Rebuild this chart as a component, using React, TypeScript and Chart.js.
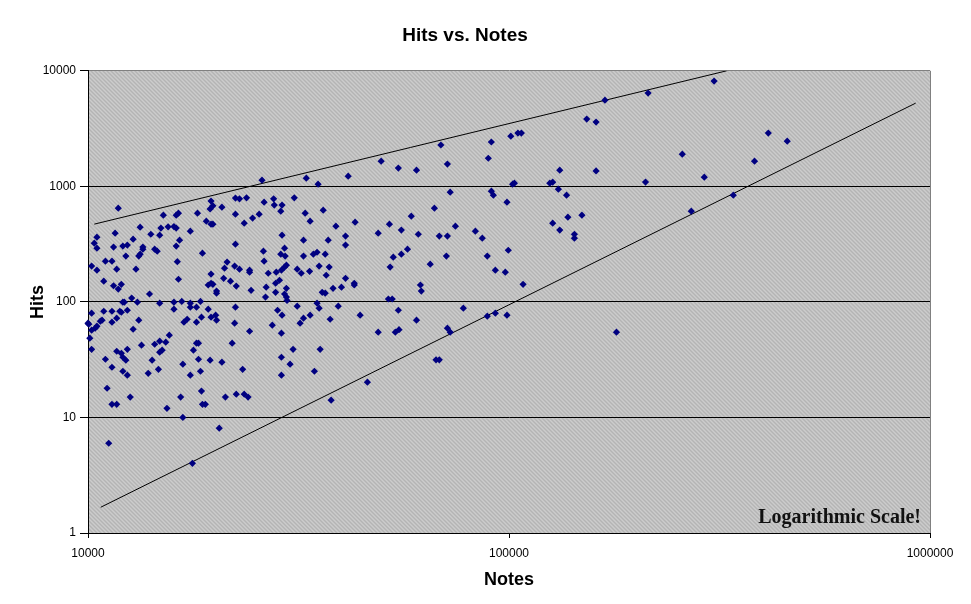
import React, { useEffect, useRef } from 'react';
import { Chart, registerables } from 'chart.js';

Chart.register(...registerables);
Chart.defaults.font.family = '"Liberation Sans", Arial, sans-serif';

const chartTitle = 'Hits vs. Notes';
const xAxisTitle = 'Notes';
const yAxisTitle = 'Hits';
const noteText = 'Logarithmic Scale!';

const xTickValues = [10000, 100000, 1000000];
const yTickValues = [1, 10, 100, 1000, 10000];

const notesValues = [
  11800, 25900, 33000, 35200, 41500, 49700, 19600, 19800, 19500, 20800,
  22400, 22900, 23800, 27600, 27700, 28900, 26200, 30900, 15100, 16200,
  16400, 18200, 22400, 25500, 28700, 32800, 36200, 24600, 23500, 33700,
  43100, 19100, 19600, 19800, 13300, 14900, 15500, 16000, 16200, 17500,
  11600, 14100, 14800, 10500, 10350, 10500, 12800, 16500, 16200, 11500,
  12100, 12400, 13500, 13500, 14400, 14600, 18700, 22400, 28900, 32500,
  37200, 40900, 40900, 38800, 26100, 29300, 28700, 29400, 32500, 34300,
  35000, 36600, 48900, 12300, 13200, 13300, 16300, 10200, 10500, 11000,
  11400, 11700, 13000, 10900, 11500, 11800, 12000, 12100, 12200, 12700,
  13100, 14000, 14800, 16400, 16000, 16700, 16000, 17500, 17500, 18500,
  18100, 19600, 19300, 19600, 19800, 20200, 20200, 21100, 21400, 21000,
  21800, 22300, 22900, 22500, 24200, 24200, 24400, 26200, 26800, 26500,
  26400, 27900, 28000, 28800, 29300, 29600, 27900, 28500, 29300, 29600,
  29700, 29600, 31400, 32100, 33600, 35400, 36800, 37400, 36000, 36600,
  38200, 40000, 40900, 42900, 42900, 31400, 35000, 35400, 39300, 28200,
  28900, 32500, 31900, 33700, 37600, 44300, 48900, 22400, 22300, 24200,
  27400, 28800, 19300, 19600, 20100, 20200, 18600, 18100, 16900, 17200,
  13200, 12800, 11400, 10900, 10200, 11900, 12000, 12400, 11700, 11400,
  10000, 10040, 10800, 10700, 10500, 10400, 10200, 10100, 10200, 11000,
  11400, 11700, 12000, 12100, 12300, 12400, 12100, 12400, 13400, 14200,
  13900, 14400, 14800, 15300, 15600, 14800, 15000, 14700, 16800, 17800,
  18100, 18300, 18300, 17500, 18500, 19500, 20800, 22000, 23300, 28800,
  30200, 30700, 28800, 34500, 35600, 46100, 37800, 11100, 12600, 11400,
  11700, 15400, 16600, 18600, 18700, 19000, 21200, 22500, 23500, 24000,
  16800, 20500, 11200, 17700, 214000, 169000, 153000, 161000, 101000, 105000,
  107000, 90800, 68900, 89300, 54600, 60300, 71400, 132000, 161000, 211000,
  102000, 103000, 125000, 127000, 131000, 137000, 90800, 91800, 72500, 98900,
  66500, 58600, 52000, 55500, 60900, 68300, 71400, 74600, 83200, 86400,
  127000, 132000, 138000, 149000, 143000, 143000, 53100, 55500, 57400, 52200,
  65000, 71000, 88800, 99600, 92800, 98000, 108000, 61600, 61900, 51700,
  52800, 77900, 54600, 60300, 88800, 92800, 98900, 53700, 54800, 71400,
  72500, 180000, 67100, 68300, 307000, 413000, 458000, 258000, 383000, 291000,
  341000, 271000,
];

const hitsValues = [
  647, 1132, 1178, 1045, 1225, 1652, 745, 678, 638, 661,
  791, 780, 795, 780, 688, 688, 730, 795, 563, 563,
  586, 586, 574, 574, 610, 586, 622, 531, 480, 500,
  490, 500, 471, 471, 443, 435, 446, 449, 435, 409,
  393, 385, 378, 363, 322, 292, 349, 342, 304, 298,
  304, 310, 298, 286, 286, 275, 264, 316, 378, 342,
  342, 371, 310, 452, 275, 292, 259, 249, 249, 259,
  269, 259, 393, 249, 249, 259, 223, 204, 188, 225,
  225, 192, 192, 151, 138, 129, 142, 99.4, 99.4, 108,
  99.4, 117, 97.4, 157, 99.4, 101, 86.5, 97.4, 90.0, 101,
  90.0, 174, 140, 145, 142, 124, 119, 196, 221, 160,
  151, 204, 192, 137, 188, 181, 126, 225, 177, 134,
  110, 121, 181, 188, 200, 208, 145, 154, 117, 110,
  103, 131, 192, 177, 184, 204, 170, 200, 121, 119,
  131, 134, 160, 145, 140, 91.8, 97.4, 88.2, 91.8, 84.7,
  76.7, 72.3, 65.4, 76.7, 70.8, 76.7, 54.7, 90.0, 65.4, 55.7,
  62.9, 53.6, 86.5, 73.7, 76.7, 69.5, 73.7, 66.7, 66.7, 70.8,
  69.5, 58.0, 83.0, 83.0, 79.8, 83.0, 81.4, 84.7, 72.3, 66.7,
  65.4, 64.1, 69.5, 68.1, 61.6, 59.2, 56.9, 48.5, 38.9, 31.9,
  27.2, 37.4, 35.9, 33.2, 31.3, 38.9, 25.1, 23.2, 42.2, 31.3,
  24.1, 43.0, 45.7, 44.8, 51.5, 36.7, 38.2, 26.1, 28.9, 38.2,
  43.9, 43.9, 31.9, 23.2, 25.1, 31.3, 30.1, 43.9, 26.1, 33.2,
  28.9, 38.9, 23.2, 25.1, 38.9, 20.2, 14.1, 17.9, 15.0, 13.0,
  13.0, 12.0, 15.0, 16.9, 13.0, 13.0, 15.0, 15.9, 15.9, 15.0,
  10.0, 8.07, 5.98, 4.01, 6410, 5570, 3820, 3600, 2720, 2890,
  2890, 2420, 2280, 1750, 1440, 1380, 1560, 1380, 1360, 1090,
  1045, 1066, 1066, 1087, 946, 839, 908, 839, 891, 730,
  647, 552, 471, 418, 385, 371, 371, 452, 409, 356,
  480, 418, 541, 563, 385, 356, 244, 259, 286, 200,
  212, 249, 249, 280, 188, 181, 142, 140, 124, 106,
  106, 88.2, 84.7, 69.5, 75.2, 79.8, 76.7, 54.7, 57.5, 59.2,
  54.7, 54.7, 31.5, 31.5, 8150, 2890, 2460, 1900, 1650, 1200,
  839, 610,
];

const upperLineNotes = [10350, 328900];
const upperLineHits = [471, 10000];
const lowerLineNotes = [10720, 924700];
const lowerLineHits = [1.67, 5250];

function makePattern(ctx: CanvasRenderingContext2D) {
  const c = document.createElement('canvas');
  c.width = 4;
  c.height = 4;
  const p = c.getContext('2d') as CanvasRenderingContext2D;
  p.fillStyle = '#c0c0c0';
  p.fillRect(0, 0, 4, 4);
  for (let i = 0; i < 4; i++) {
    p.fillStyle = '#b4b4b4';
    p.fillRect(i, i, 1, 1);
    p.fillStyle = '#cccccc';
    p.fillRect(i, (i + 2) % 4, 1, 1);
  }
  return ctx.createPattern(c, 'repeat');
}

const decorPlugin = {
  id: 'decor',
  beforeDraw(chart: any) {
    const { ctx, chartArea: a } = chart;
    ctx.save();
    ctx.fillStyle = '#ffffff';
    ctx.fillRect(0, 0, chart.width, chart.height);
    const pat = makePattern(ctx);
    if (pat) ctx.fillStyle = pat;
    ctx.fillRect(a.left, a.top, a.right - a.left, a.bottom - a.top);
    ctx.restore();
  },
  beforeDatasetsDraw(chart: any) {
    const { ctx, chartArea: a } = chart;
    ctx.save();
    ctx.strokeStyle = '#808080';
    ctx.lineWidth = 1;
    ctx.beginPath();
    ctx.moveTo(Math.round(a.right) + 0.5, a.top);
    ctx.lineTo(Math.round(a.right) + 0.5, a.bottom);
    ctx.stroke();
    ctx.restore();
  },
  afterDatasetsDraw(chart: any) {
    const { ctx, chartArea: a } = chart;
    ctx.save();
    ctx.font = 'bold 20px "Liberation Serif", "Times New Roman", serif';
    ctx.fillStyle = '#111111';
    ctx.textAlign = 'right';
    ctx.textBaseline = 'alphabetic';
    ctx.fillText(noteText, a.right - 9, a.bottom - 10.5);
    ctx.restore();
  },
};

export default function App() {
  const canvasRef = useRef<HTMLCanvasElement | null>(null);

  useEffect(() => {
    const canvas = canvasRef.current;
    if (!canvas) return;
    const chart = new Chart(canvas, {
      type: 'scatter',
      data: {
        datasets: [
          {
            label: 'Hits',
            data: notesValues.map((x, i) => ({ x, y: hitsValues[i] })),
            pointStyle: 'rectRot',
            pointRadius: 3.6,
            pointHoverRadius: 3.6,
            backgroundColor: '#000080',
            borderColor: '#000080',
            borderWidth: 0,
            showLine: false,
            clip: false,
          } as any,
          {
            label: 'Upper',
            data: upperLineNotes.map((x, i) => ({ x, y: upperLineHits[i] })),
            showLine: true,
            borderColor: '#000000',
            borderWidth: 1,
            pointRadius: 0,
            fill: false,
          },
          {
            label: 'Lower',
            data: lowerLineNotes.map((x, i) => ({ x, y: lowerLineHits[i] })),
            showLine: true,
            borderColor: '#000000',
            borderWidth: 1,
            pointRadius: 0,
            fill: false,
          },
        ],
      },
      options: {
        animation: false,
        responsive: false,
        maintainAspectRatio: false,
        layout: { padding: { left: 0, right: 41, top: 0, bottom: 0 } },
        plugins: {
          legend: { display: false },
          tooltip: { enabled: false },
          title: {
            display: true,
            text: chartTitle,
            color: '#000000',
            font: { size: 19, weight: 'bold' },
            padding: { top: 24, bottom: 24 },
          },
        },
        scales: {
          x: {
            type: 'logarithmic',
            position: 'bottom',
            min: 10000,
            max: 1000000,
            afterBuildTicks: (s: any) => {
              s.ticks = xTickValues.map((v) => ({ value: v }));
            },
            afterFit: (s: any) => {
              s.height = 71;
            },
            ticks: {
              callback: (v: any) => String(v),
              color: '#000000',
              font: { size: 12 },
              padding: 8,
              autoSkip: false,
              maxRotation: 0,
            },
            grid: {
              drawOnChartArea: false,
              drawTicks: true,
              tickLength: 5,
              color: '#000000',
              tickColor: '#000000',
            },
            border: { display: true, color: '#000000', width: 1 },
            title: {
              display: true,
              text: xAxisTitle,
              color: '#000000',
              font: { size: 18, weight: 'bold' },
              padding: { top: 0, bottom: 13 },
            },
          },
          y: {
            type: 'logarithmic',
            position: 'left',
            min: 1,
            max: 10000,
            afterBuildTicks: (s: any) => {
              s.ticks = yTickValues.map((v) => ({ value: v }));
            },
            afterFit: (s: any) => {
              s.width = 88;
            },
            ticks: {
              callback: (v: any) => String(v),
              color: '#000000',
              font: { size: 12 },
              padding: 4,
              autoSkip: false,
            },
            grid: {
              drawOnChartArea: true,
              drawTicks: true,
              tickLength: 8,
              color: (c: any) => (c.tick && c.tick.value === 10000 ? '#808080' : '#000000'),
              tickColor: '#000000',
              lineWidth: 1,
            },
            border: { display: true, color: '#000000', width: 1 },
            title: {
              display: true,
              text: yAxisTitle,
              color: '#000000',
              font: { size: 18, weight: 'bold' },
              padding: { top: 27, bottom: 0 },
            },
          },
        },
      } as any,
      plugins: [decorPlugin],
    });
    return () => chart.destroy();
  }, []);

  return (
    <div style={{ position: 'absolute', left: 0, top: 0, width: 971, height: 604 }}>
      <canvas ref={canvasRef} width={971} height={604} style={{ display: 'block' }} />
    </div>
  );
}
